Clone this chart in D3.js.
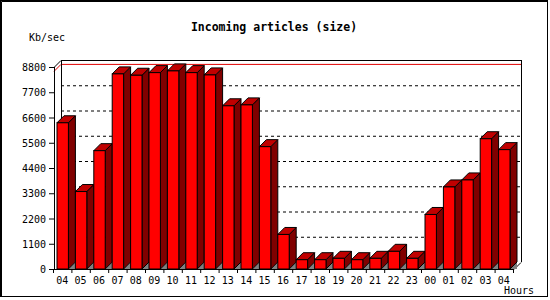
<!DOCTYPE html>
<html>
<head>
<meta charset="utf-8">
<script src="https://cdn.jsdelivr.net/npm/d3@7"></script>
<style>
  body { margin: 0; background: #fff; }
  text { font-family: "DejaVu Sans Mono", monospace; fill: #000; }
</style>
</head>
<body>
<div class="canvas"></div>
<script>
// data
const hours = ['04','05','06','07','08','09','10','11','12','13','14','15','16',
               '17','18','19','20','21','22','23','00','01','02','03','04'];
const kbsec = [6370, 3375, 5155, 8500, 8440, 8555, 8630, 8555, 8455, 7110, 7150, 5330, 1505,
               405, 405, 465, 405, 465, 770, 465, 2375, 3575, 3880, 5675, 5200];
const yTicks = [0, 1100, 2200, 3300, 4400, 5500, 6600, 7700, 8800];

const dims = { width: 550, height: 300 };
const depth = 7; // 3d offset (px right and up)
const plot = { left: 54, right: 514, bottom: 269, top: 67 };

const svg = d3.select('.canvas')
  .append('svg')
  .attr('width', dims.width)
  .attr('height', dims.height);

// outer frame (2px top/left, 1px right/bottom)
svg.append('rect')
  .attr('x', 0.5).attr('y', 0.5)
  .attr('width', 547).attr('height', 296)
  .attr('fill', 'none').attr('stroke', '#000').attr('stroke-width', 1);
svg.append('path')
  .attr('d', 'M1.5,297 L1.5,1.5 L548,1.5')
  .attr('fill', 'none').attr('stroke', '#000').attr('stroke-width', 1);

//------------------------scales
const x = d3.scaleBand()
  .domain(d3.range(hours.length))
  .range([plot.left, plot.right]);

const y = d3.scaleLinear()
  .domain([0, 8800])
  .range([plot.bottom, plot.top]);

const bw = x.bandwidth();
const faceW = bw - depth;
const faceX = i => x(i) + 3;

//------------------------3d box (walls)
const g = svg.append('g');
const line = (x1, y1, x2, y2) => g.append('line')
  .attr('x1', x1).attr('y1', y1).attr('x2', x2).attr('y2', y2)
  .attr('stroke', '#000').attr('stroke-width', 1);

// dashed grid on the back wall
g.selectAll('.grid')
  .data(yTicks.slice(1, -1))
  .enter().append('line')
  .attr('class', 'grid')
  .attr('x1', plot.left + depth).attr('x2', plot.right + depth)
  .attr('y1', d => y(d) - depth + 0.5).attr('y2', d => y(d) - depth + 0.5)
  .attr('stroke', '#000')
  .attr('stroke-dasharray', '3,3');

// red max line
const maxV = d3.max(kbsec);
g.append('path')
  .attr('d', `M${plot.left},${y(maxV) + 0.5} L${plot.left + depth},${y(maxV) - depth + 0.5} L${plot.right + depth},${y(maxV) - depth + 0.5}`)
  .attr('fill', 'none').attr('stroke', '#e00000').attr('stroke-width', 1);

// frame
line(plot.left + 0.5, plot.top, plot.left + 0.5, plot.bottom + 0.5);
line(plot.left + depth + 0.5, plot.top - depth, plot.left + depth + 0.5, plot.bottom - depth);
line(plot.left, plot.top + 0.5, plot.left + depth, plot.top - depth + 0.5);
line(plot.left + depth, plot.top - depth + 0.5, plot.right + depth + 0.5, plot.top - depth + 0.5);
line(plot.right + depth + 0.5, plot.top - depth, plot.right + depth + 0.5, plot.bottom - depth);
line(plot.left, plot.bottom + 0.5, plot.right, plot.bottom + 0.5);
line(plot.right, plot.bottom + 0.5, plot.right + depth, plot.bottom - depth + 0.5);

// y ticks + labels
g.selectAll('.ytick')
  .data(yTicks)
  .enter().append('line')
  .attr('x1', plot.left - 5).attr('x2', plot.left)
  .attr('y1', d => y(d) + 0.5).attr('y2', d => y(d) + 0.5)
  .attr('stroke', '#000');

g.selectAll('.ylab')
  .data(yTicks)
  .enter().append('text')
  .attr('x', 46)
  .attr('y', d => y(d) + 4)
  .attr('text-anchor', 'end')
  .style('font-size', '10px')
  .text(d => d);

// x ticks + labels
g.selectAll('.xtick')
  .data(d3.range(hours.length + 1))
  .enter().append('line')
  .attr('x1', i => plot.left + i * bw - 0.5).attr('x2', i => plot.left + i * bw - 0.5)
  .attr('y1', plot.bottom).attr('y2', plot.bottom + 4)
  .attr('stroke', '#000');

g.selectAll('.xlab')
  .data(hours)
  .enter().append('text')
  .attr('x', (d, i) => faceX(i) + faceW / 2 - 0.5)
  .attr('y', 284)
  .attr('text-anchor', 'middle')
  .style('font-size', '10px')
  .text(d => d);

//------------------------bars
const bars = svg.append('g').selectAll('g')
  .data(kbsec)
  .enter().append('g');

// floor showing under the side face
bars.append('path')
  .attr('d', (d, i) => {
    const x0 = faceX(i) + faceW;
    return `M${x0},${plot.bottom} L${x0 + depth},${plot.bottom - depth} L${x0 + depth},${plot.bottom} Z`;
  })
  .attr('fill', '#808080');

bars.append('path') // side
  .attr('d', (d, i) => {
    const x0 = faceX(i) + faceW, yt = y(d);
    return `M${x0},${yt} L${x0 + depth},${yt - depth} L${x0 + depth},${plot.bottom - depth} L${x0},${plot.bottom} Z`;
  })
  .attr('fill', '#800000').attr('stroke', '#000').attr('stroke-width', 1);

bars.append('path') // top
  .attr('d', (d, i) => {
    const x0 = faceX(i), yt = y(d);
    return `M${x0},${yt} L${x0 + depth},${yt - depth} L${x0 + faceW + depth},${yt - depth} L${x0 + faceW},${yt} Z`;
  })
  .attr('fill', '#c00000').attr('stroke', '#000').attr('stroke-width', 1);

bars.append('rect') // front
  .attr('x', (d, i) => faceX(i))
  .attr('y', d => y(d))
  .attr('width', faceW)
  .attr('height', d => plot.bottom - y(d))
  .attr('fill', '#ff0000').attr('stroke', '#000').attr('stroke-width', 1);

//------------------------texts
svg.append('text')
  .attr('x', 274).attr('y', 31)
  .attr('text-anchor', 'middle')
  .style('font-size', '11.5px').style('font-weight', 'bold')
  .text('Incoming articles (size)');

svg.append('text')
  .attr('x', 29).attr('y', 41)
  .style('font-size', '10px')
  .text('Kb/sec');

svg.append('text')
  .attr('x', 504).attr('y', 294)
  .style('font-size', '10px')
  .text('Hours');
</script>
</body>
</html>
